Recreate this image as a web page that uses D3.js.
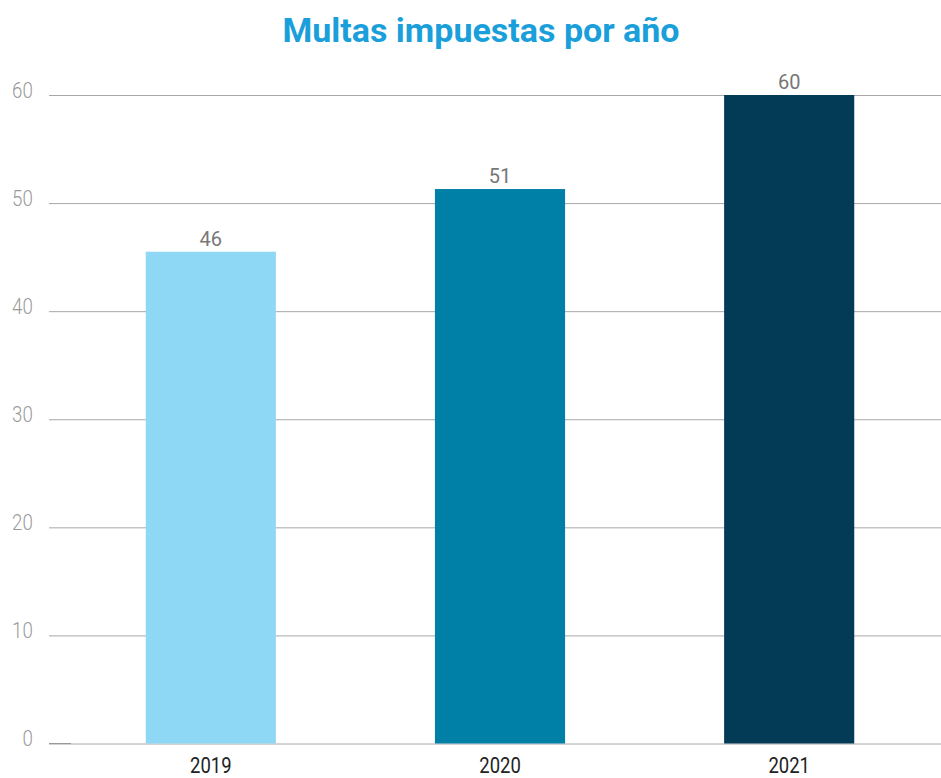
<!DOCTYPE html>
<html>
<head>
<meta charset="utf-8">
<script src="https://cdn.jsdelivr.net/npm/d3@7"></script>
<style>
  body { margin: 0; background: #fff; }
  text { font-family: "Roboto", sans-serif; }
</style>
</head>
<body>
<div class="bar-chart"></div>
<script>
const FRAME_WIDTH = 941;
const FRAME_HEIGHT = 778;

// data
const years = ["2019", "2020", "2021"];
const fines = [45.5, 51.3, 60];
const barColors = ["#8fd8f5", "#007fa7", "#033b57"];
const yTicks = [0, 10, 20, 30, 40, 50, 60];

const FRAME = d3.select(".bar-chart")
    .append("svg")
    .attr("width", FRAME_WIDTH)
    .attr("height", FRAME_HEIGHT);

// title
FRAME.append("text")
    .attr("x", 481)
    .attr("y", 42)
    .attr("text-anchor", "middle")
    .attr("font-size", "34px")
    .attr("font-weight", "bold")
    .attr("fill", "#1a9fdb")
    .text("Multas impuestas por año");

const xScale = d3.scaleBand()
    .domain(years)
    .range([59, 941])
    .paddingInner(0.55)
    .paddingOuter(0.3);

const yScale = d3.scaleLinear()
    .domain([0, 60])
    .range([743.5, 95]);

// gridlines + y labels
const yAxis = FRAME.append("g")
    .attr("transform", "translate(49,0)")
    .call(d3.axisLeft(yScale).tickValues(yTicks).tickSize(-892).tickPadding(16));

yAxis.select(".domain").remove();
yAxis.selectAll(".tick line")
    .attr("stroke", "#a8a8a8")
    .attr("stroke-width", 1);
yAxis.selectAll(".tick text")
    .attr("font-size", "22px")
    .attr("font-family", "Roboto, sans-serif")
    .attr("font-weight", 300)
    .attr("fill", "#9a9a9a")
    .attr("dy", "0.1em")
    .attr("x", -19)
    .attr("transform", "scale(0.85,1)");

// bars
FRAME.selectAll(".bar")
    .data(years)
    .enter().append("rect")
    .attr("class", "bar")
    .attr("x", (d) => xScale(d))
    .attr("y", (d, i) => yScale(fines[i]))
    .attr("width", xScale.bandwidth())
    .attr("height", (d, i) => yScale(0) - yScale(fines[i]))
    .attr("fill", (d, i) => barColors[i]);

// value labels
FRAME.selectAll(".val")
    .data(years)
    .enter().append("text")
    .attr("class", "val")
    .attr("x", (d) => xScale(d) + xScale.bandwidth() / 2)
    .attr("y", (d, i) => yScale(fines[i]) - 6)
    .attr("text-anchor", "middle")
    .attr("font-size", "20px")
    .attr("fill", "#777")
    .text((d, i) => Math.round(fines[i]));

// x labels
const xAxis = FRAME.append("g")
    .attr("transform", "translate(0,743.5)")
    .call(d3.axisBottom(xScale).tickSize(0).tickPadding(14));

xAxis.select(".domain").remove();
xAxis.selectAll(".tick text")
    .attr("font-size", "22px")
    .attr("font-family", "Roboto, sans-serif")
    .attr("fill", "#222")
    .attr("transform", "scale(0.84,1)");

// darker stub at the start of the baseline
FRAME.append("line")
    .attr("x1", 49).attr("x2", 71)
    .attr("y1", yScale(0)).attr("y2", yScale(0))
    .attr("stroke", "#999")
    .attr("stroke-width", 1);
</script>
</body>
</html>
